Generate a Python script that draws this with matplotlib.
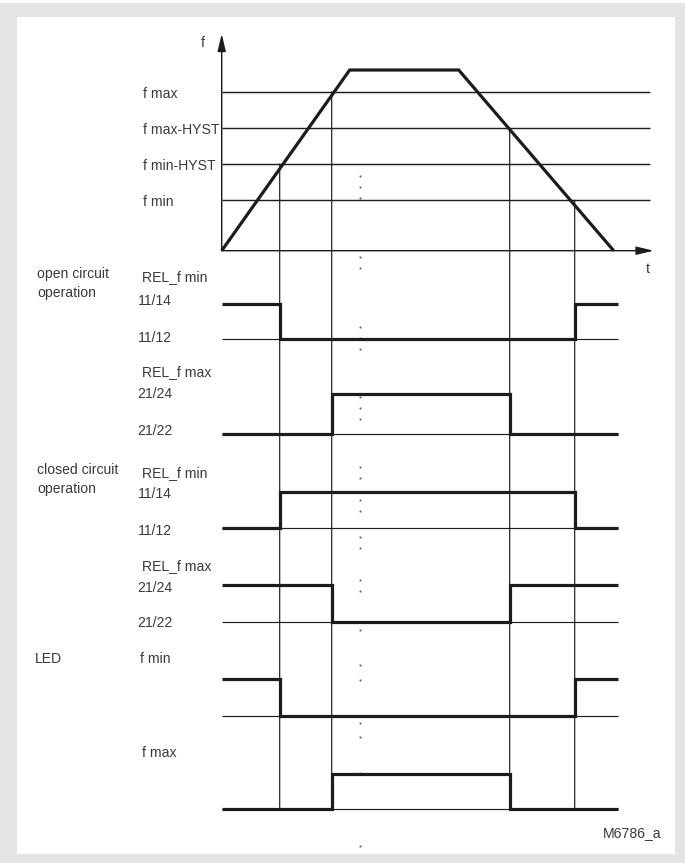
import matplotlib
matplotlib.use('Agg')
import matplotlib.pyplot as plt
from matplotlib.patches import Rectangle, ConnectionPatch
from matplotlib import font_manager

# ---------------- data ----------------
ramp_t = [0.0, 12.8, 23.7, 39.2]          # frequency profile time points
ramp_f = [0.0, 50.0, 50.0, 0.0]           # frequency profile values
threshold_labels = ['f max', 'f max-HYST', 'f min-HYST', 'f min']
threshold_f = [44.0, 34.0, 24.0, 14.0]
switch_t = [5.8, 11.0, 28.8, 35.3]        # switching instants
switch_f = [24.0, 44.0, 34.0, 14.0]       # threshold that triggers each switch
signal_end_t = 39.6
threshold_end_t = 42.8
axis_t_end = 43.2
axis_f_end = 60.0
marker_t = 13.8

group_labels = [['open circuit', 'operation'], ['closed circuit', 'operation'], ['LED']]
row_titles = ['REL_f min', 'REL_f max', 'REL_f min', 'REL_f max', 'f min', 'f max']
row_high = ['11/14', '21/24', '11/14', '21/24', '', '']
row_low = ['11/12', '21/22', '11/12', '21/22', '', '']
# state of each signal in the five intervals between switching instants
states = [
    [1, 0, 0, 0, 1],
    [0, 0, 1, 0, 0],
    [0, 1, 1, 1, 0],
    [1, 1, 0, 1, 1],
    [1, 0, 0, 0, 1],
    [0, 0, 1, 0, 0],
]
drawing_id = 'M6786_a'

# ---------------- layout (pixels) ----------------
W, H, DPI = 685, 863, 100
X0, PX_T = 221.7, 10.0           # t = 0 position, px per time unit
F0, PX_F = 250.7, 180.7 / 50.0   # f = 0 position, px per freq unit
row_px = [(304.3, 339.3), (394.3, 433.7), (491.7, 527.7),
          (585.3, 622.3), (679.0, 715.7), (774.0, 809.0)]
group_px = [[(37, 273), (37, 292)], [(37, 469), (37, 488)], [(35, 658)]]
title_px = [(141.7, 276), (141.7, 370.7), (141.7, 471.7),
            (141.7, 565), (140, 658), (142, 752)]
high_px = [(137.7, 300), (137.7, 393.3), (137.7, 493.3), (137.7, 586.7), None, None]
low_px = [(137.7, 336.7), (137.7, 430), (137.7, 530), (137.7, 621.7), None, None]
thr_label_x = 142.7
guide_dot_y = [176, 187, 198, 257, 268, 327, 338, 349, 397, 408, 419,
               467, 478, 500, 511, 537, 548, 580, 591, 630, 665, 680,
               723, 737, 773, 846]

LINE = '#1c1c1c'
TXT = '#3a3a3a'
GRAY = '#e4e4e4'
THIN = 0.85
THICK = 2.3

_names = {f.name for f in font_manager.fontManager.ttflist}
if 'Liberation Sans Narrow' in _names:
    FONT, FS = ['Liberation Sans Narrow', 'DejaVu Sans'], 12.3
else:
    FONT, FS = ['Liberation Sans', 'DejaVu Sans'], 10.1
BASE = 5  # baseline offset below visual centre

fig = plt.figure(figsize=(W / DPI, H / DPI), dpi=DPI)
fig.patch.set_facecolor('white')

# background / pixel axes
axp = fig.add_axes([0, 0, 1, 1])
axp.set_xlim(0, W)
axp.set_ylim(H, 0)
axp.axis('off')
axp.add_patch(Rectangle((0, 3), W, H - 3, facecolor=GRAY, edgecolor='none', zorder=0))
axp.add_patch(Rectangle((17, 17), 675 - 17, 854 - 17, facecolor='white', edgecolor='none', zorder=0.5))


def txt(x, y, s, **kw):
    axp.text(x, y + BASE, s, fontsize=FS, family=FONT, color=TXT,
             ha='left', va='baseline', zorder=5, **kw)


def frac_box(x_left, x_right, y_top, y_bottom):
    return [x_left / W, 1 - y_bottom / H, (x_right - x_left) / W, (y_bottom - y_top) / H]


# ---------------- frequency panel ----------------
f_top_px = F0 - axis_f_end * PX_F
axf = fig.add_axes(frac_box(X0, X0 + axis_t_end * PX_T, f_top_px, F0))
axf.set_xlim(0, axis_t_end)
axf.set_ylim(0, axis_f_end)
axf.axis('off')
axf.patch.set_alpha(0)

axf.hlines(threshold_f, 0, threshold_end_t, color=LINE, lw=THIN * 1.2, zorder=2)
axf.plot(ramp_t, ramp_f, color=LINE, lw=THICK, solid_joinstyle='miter',
         solid_capstyle='butt', zorder=4, clip_on=False)
axf.annotate('', xy=(axis_t_end, 0), xytext=(0, 0),
             arrowprops=dict(arrowstyle='-|>,head_length=1.05,head_width=0.25',
                             color=LINE, lw=THIN * 1.2, shrinkA=0, shrinkB=0,
                             mutation_scale=10), zorder=3)
axf.annotate('', xy=(0, axis_f_end), xytext=(0, 0),
             arrowprops=dict(arrowstyle='-|>,head_length=1.05,head_width=0.25',
                             color=LINE, lw=THIN * 1.2, shrinkA=0, shrinkB=0,
                             mutation_scale=10), zorder=3)

for lab, fv in zip(threshold_labels, threshold_f):
    ypx = F0 - fv * PX_F
    txt(thr_label_x, ypx + 1, lab)
txt(201, 42, 'f')
txt(646, 268, 't')

# ---------------- signal rows ----------------
edges = [0.0] + switch_t + [signal_end_t]
row_axes = []
for i, (yh, yl) in enumerate(row_px):
    ax = fig.add_axes(frac_box(X0, X0 + axis_t_end * PX_T, yh, yl))
    ax.set_xlim(0, axis_t_end)
    ax.set_ylim(0, 1)
    ax.axis('off')
    ax.patch.set_alpha(0)
    ax.hlines(0, 0, signal_end_t, color=LINE, lw=THIN, zorder=2, clip_on=False)
    vals = states[i] + [states[i][-1]]
    ax.step(edges, vals, where='post', color=LINE, lw=THICK,
            solid_joinstyle='miter', solid_capstyle='butt', zorder=4, clip_on=False)
    row_axes.append(ax)
    txt(*title_px[i], row_titles[i])
    if high_px[i] is not None:
        txt(*high_px[i], row_high[i])
        txt(*low_px[i], row_low[i])

for grp, pos in zip(group_labels, group_px):
    for s, (x, y) in zip(grp, pos):
        txt(x, y, s)

# vertical switching lines from threshold crossing down to the last row
for t, fv in zip(switch_t, switch_f):
    con = ConnectionPatch(xyA=(t, fv), coordsA=axf.transData,
                          xyB=(t, 0), coordsB=row_axes[-1].transData,
                          color=LINE, lw=THIN, zorder=3)
    fig.add_artist(con)

# faint guide dots
mx = X0 + marker_t * PX_T
axp.plot([mx] * len(guide_dot_y), guide_dot_y, ls='none', marker='s',
         ms=1.3, mfc='#555555', mec='none', zorder=5)

txt(603, 831.7, drawing_id)

fig.savefig('out.png', dpi=DPI, facecolor='white')
